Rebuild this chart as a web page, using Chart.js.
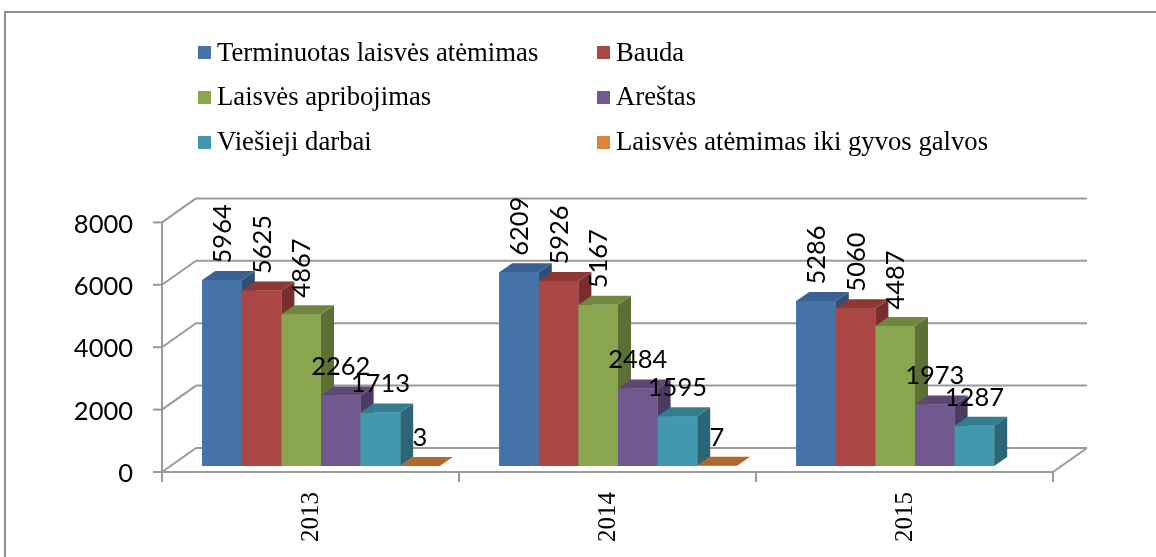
<!DOCTYPE html>
<html>
<head>
<meta charset="utf-8">
<script src="https://cdn.jsdelivr.net/npm/chart.js@4.4.1/dist/chart.umd.min.js"></script>
<style>
  html, body { margin: 0; padding: 0; background: #fff; overflow: hidden; }
  #wrap { position: relative; width: 1156px; height: 557px; overflow: hidden; }
  #frame { position: absolute; left: 4px; top: 11px; width: 1300px; height: 700px;
           border: 2px solid #8e8e8e; box-sizing: border-box; pointer-events: none; }
  canvas { position: absolute; left: 0; top: 0; }
  .lg { position: absolute; font-family: "Liberation Serif", "Times New Roman", serif;
        font-size: 26.7px; line-height: 30px; color: #000; white-space: nowrap; }
  .mk { position: absolute; width: 13px; height: 13px; }
</style>
</head>
<body>
<div id="wrap">
  <canvas id="c" width="1156" height="557"></canvas>
  <div id="frame"></div>
  <div id="legend"></div>
</div>
<script>
// ---- data ----
const categories = ["2013", "2014", "2015"];
const seriesNames = [
  "Terminuotas laisvės atėmimas",
  "Bauda",
  "Laisvės apribojimas",
  "Areštas",
  "Viešieji darbai",
  "Laisvės atėmimas iki gyvos galvos"
];
const terminuotas = [5964, 6209, 5286];
const bauda       = [5625, 5926, 5060];
const apribojimas = [4867, 5167, 4487];
const arestas     = [2262, 2484, 1973];
const viesieji    = [1713, 1595, 1287];
const ikiGyvos    = [3, 7, null];
const yTicks = [0, 2000, 4000, 6000, 8000];

// ---- styles ----
const frontColors = ["#4572A7", "#AA4643", "#89A54E", "#71588F", "#4198AF", "#DB843D"];
const topColors   = ["#3A6191", "#8C3835", "#6F8740", "#5C4775", "#347C8F", "#B3672C"];
const sideColors  = ["#2F5079", "#772E2C", "#5C6F35", "#4C3B61", "#2B6676", "#93552A"];
const rotatedLabel = [true, true, true, false, false, false];
const seriesValues = [terminuotas, bauda, apribojimas, arestas, viesieji, ikiGyvos];

const DEPTH_DX = 13, DEPTH_DY = -9;          // bar depth
const FRONT_DX = -10.5, FRONT_DY = 6;        // front plane offset from bar plane
const BACK_DX = 23.5, BACK_DY = -18;         // back wall offset from bar plane
const GRID = "#9a9a9a";
const NUM_FONT = '25.5px Lato, "Open Sans", sans-serif';
const CAT_FONT = '25px "Liberation Serif", "Times New Roman", serif';

// ---- legend (HTML, generated from series) ----
(function buildLegend() {
  const lg = document.getElementById("legend");
  const colX = [198, 597];
  const rowTop = [36.5, 81.2, 126];
  seriesNames.forEach((name, i) => {
    const col = i % 2, row = Math.floor(i / 2);
    const mk = document.createElement("div");
    mk.className = "mk";
    mk.style.left = colX[col] + "px";
    mk.style.top = (rowTop[row] + 9.5) + "px";
    mk.style.background = frontColors[i];
    lg.appendChild(mk);
    const t = document.createElement("div");
    t.className = "lg";
    t.style.left = (colX[col] + 19) + "px";
    t.style.top = rowTop[row] + "px";
    t.textContent = name;
    lg.appendChild(t);
  });
})();

function line(ctx, x1, y1, x2, y2) {
  ctx.beginPath(); ctx.moveTo(x1, y1); ctx.lineTo(x2, y2); ctx.stroke();
}
function poly(ctx, pts, color) {
  ctx.beginPath();
  ctx.moveTo(pts[0][0], pts[0][1]);
  for (let k = 1; k < pts.length; k++) ctx.lineTo(pts[k][0], pts[k][1]);
  ctx.closePath();
  ctx.fillStyle = color;
  ctx.fill();
}

const frame3d = {
  id: "frame3d",
  beforeDatasetsDraw(chart) {
    const { ctx, chartArea: a, scales: { x, y } } = chart;
    ctx.save();
    ctx.strokeStyle = GRID;
    ctx.lineWidth = 2;
    const L = a.left, R = a.right;
    // back wall gridlines + left wall diagonals
    yTicks.forEach(v => {
      const py = y.getPixelForValue(v);
      line(ctx, L + BACK_DX, py + BACK_DY, R + BACK_DX, py + BACK_DY);
      line(ctx, L + FRONT_DX, py + FRONT_DY, L + BACK_DX, py + BACK_DY);
      // front tick
      line(ctx, L + FRONT_DX - 9, py + FRONT_DY, L + FRONT_DX, py + FRONT_DY);
    });
    const y0 = y.getPixelForValue(0), yMax = y.getPixelForValue(8000);
    // front vertical axis
    line(ctx, L + FRONT_DX, yMax + FRONT_DY, L + FRONT_DX, y0 + FRONT_DY);
    // front floor edge
    line(ctx, L + FRONT_DX, y0 + FRONT_DY, R + FRONT_DX, y0 + FRONT_DY);
    // right floor edge
    line(ctx, R + FRONT_DX, y0 + FRONT_DY, R + BACK_DX, y0 + BACK_DY);
    // category ticks
    const w = (R - L) / categories.length;
    for (let i = 0; i <= categories.length; i++) {
      const px = L + i * w + FRONT_DX;
      line(ctx, px, y0 + FRONT_DY, px, y0 + FRONT_DY + 10);
    }
    ctx.restore();
  },
  afterDatasetsDraw(chart) {
    const { ctx, scales: { x, y }, chartArea: a } = chart;
    ctx.save();
    // bars: per category, left to right, top + side + front
    for (let j = 0; j < categories.length; j++) {
      for (let i = 0; i < seriesValues.length; i++) {
        const v = seriesValues[i][j];
        if (v === null || v === undefined) continue;
        const el = chart.getDatasetMeta(i).data[j];
        const x0 = el.x - el.width / 2, x1 = el.x + el.width / 2;
        const top = el.y, base = el.base;
        poly(ctx, [[x1, top], [x1 + DEPTH_DX, top + DEPTH_DY], [x1 + DEPTH_DX, base + DEPTH_DY], [x1, base]], sideColors[i]);
        poly(ctx, [[x0, top], [x1, top], [x1 + DEPTH_DX, top + DEPTH_DY], [x0 + DEPTH_DX, top + DEPTH_DY]], topColors[i]);
        ctx.fillStyle = frontColors[i];
        ctx.fillRect(x0, top, x1 - x0, base - top);
      }
    }
    // data labels
    ctx.fillStyle = "#000";
    ctx.font = NUM_FONT;
    for (let i = 0; i < seriesValues.length; i++) {
      const meta = chart.getDatasetMeta(i);
      seriesValues[i].forEach((v, j) => {
        if (v === null || v === undefined) return;
        const el = meta.data[j];
        if (rotatedLabel[i]) {
          ctx.save();
          ctx.translate(el.x + 1, el.y - 16.5);
          ctx.rotate(-Math.PI / 2);
          ctx.textAlign = "left";
          ctx.textBaseline = "middle";
          ctx.fillText(String(v), 0, 0);
          ctx.restore();
        } else {
          ctx.textAlign = "center";
          ctx.textBaseline = "middle";
          ctx.fillText(String(v), el.x, el.y - 28.5);
        }
      });
    }
    // y axis labels (front plane)
    ctx.textAlign = "right";
    ctx.textBaseline = "middle";
    yTicks.forEach(v => {
      ctx.fillText(String(v), a.left + FRONT_DX - 29, y.getPixelForValue(v) + FRONT_DY + 2);
    });
    // category labels (rotated, front plane)
    ctx.font = CAT_FONT;
    const y0 = y.getPixelForValue(0);
    categories.forEach((c, j) => {
      ctx.save();
      ctx.translate(x.getPixelForValue(j) + FRONT_DX + 1, y0 + FRONT_DY + 20);
      ctx.rotate(-Math.PI / 2);
      ctx.textAlign = "right";
      ctx.textBaseline = "middle";
      ctx.fillText(c, 0, 0);
      ctx.restore();
    });
    ctx.restore();
  }
};

new Chart(document.getElementById("c"), {
  type: "bar",
  data: {
    labels: categories,
    datasets: seriesNames.map((name, i) => ({
      label: name,
      data: seriesValues[i],
      backgroundColor: frontColors[i],
      borderWidth: 0,
      categoryPercentage: 0.8,
      barPercentage: 1.0
    }))
  },
  options: {
    responsive: false,
    animation: false,
    events: [],
    layout: { padding: { left: 172.5, right: 92.5, top: 216.4, bottom: 91 } },
    plugins: { legend: { display: false }, tooltip: { enabled: false } },
    scales: {
      x: { display: false, offset: true },
      y: { display: false, min: 0, max: 8000 }
    }
  },
  plugins: [frame3d]
});
</script>
</body>
</html>
